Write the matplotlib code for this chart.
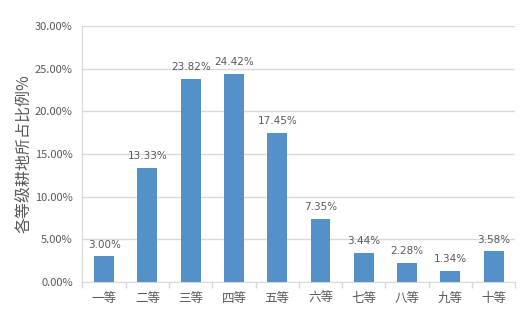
import numpy as np
import matplotlib.pyplot as plt
from matplotlib.ticker import FuncFormatter, FixedLocator

plt.rcParams['font.family'] = ['Noto Sans CJK SC', 'DejaVu Sans']

# data
grades = ['一等', '二等', '三等', '四等', '五等', '六等', '七等', '八等', '九等', '十等']
shares = [3.00, 13.33, 23.82, 24.42, 17.45, 7.35, 3.44, 2.28, 1.34, 3.58]

bar_color = '#5591C9'
text_color = '#595959'
grid_color = '#D9D9D9'

fig = plt.figure(figsize=(5.22, 3.14), dpi=100)
ax = fig.add_axes([0.158, 0.102, 0.829, 0.815])

x = np.arange(len(grades))
bars = ax.bar(x, shares, width=0.46, color=bar_color, zorder=3)

for xi, v in zip(x, shares):
    ax.text(xi, v + 0.8, '%.2f%%' % v, ha='center', va='bottom',
            fontsize=7.5, color=text_color, family='DejaVu Sans', zorder=4)

ax.set_ylim(0, 30)
ax.set_xlim(-0.5, len(grades) - 0.5)
ax.set_yticks(np.arange(0, 31, 5))
ax.yaxis.set_major_formatter(FuncFormatter(lambda v, p: '%.2f%%' % v))
ax.yaxis.grid(True, color=grid_color, linewidth=1, zorder=0)
ax.tick_params(axis='y', length=0, labelsize=8, labelcolor=text_color, pad=7)

# category labels at centers, tick marks between categories
ax.set_xticks(x)
ax.set_xticklabels(grades, fontsize=9, color=text_color)
ax.tick_params(axis='x', which='major', length=0, pad=7)
ax.xaxis.set_minor_locator(FixedLocator(np.arange(-0.5, len(grades), 1)))
ax.tick_params(axis='x', which='minor', length=4, color=grid_color, width=1)

for s in ['top', 'right']:
    ax.spines[s].set_visible(False)
ax.spines['left'].set_color(grid_color)
ax.spines['bottom'].set_color(grid_color)

ax.set_ylabel('各等级耕地所占比例%', fontsize=11.5, color=text_color, labelpad=2)

fig.savefig('out.png', dpi=100)
